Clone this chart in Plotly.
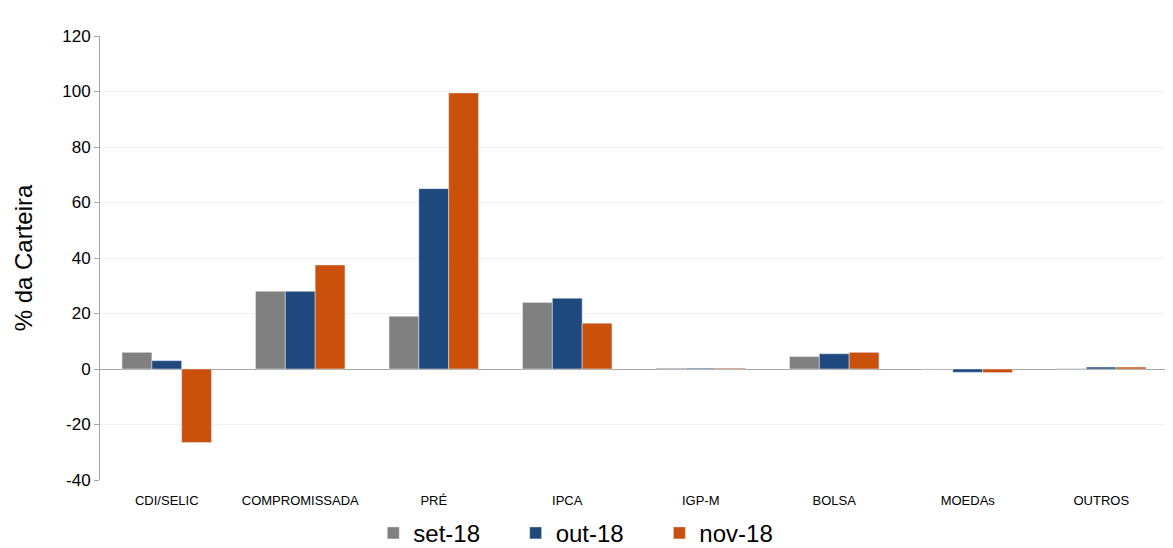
import plotly.graph_objects as go

categories = ["CDI/SELIC", "COMPROMISSADA", "PRÉ", "IPCA", "IGP-M", "BOLSA", "MOEDAs", "OUTROS"]
set18 = [6, 28, 19, 24, 0.3, 4.5, -0.3, 0.1]
out18 = [3, 28, 65, 25.5, 0.3, 5.5, -1.2, 0.7]
nov18 = [-26.5, 37.5, 99.5, 16.5, 0.3, 6, -1.3, 0.7]
y_ticks = [-40, -20, 0, 20, 40, 60, 80, 100, 120]
y_tick_labels = [str(v) for v in y_ticks]

series = [("set-18", set18, "#808080"), ("out-18", out18, "#1F497D"), ("nov-18", nov18, "#C9510C")]

fig = go.Figure()
for name, vals, color in series:
    fig.add_trace(go.Bar(x=categories, y=vals, name=name + "\u2003 ", marker_color=color))

fig.update_layout(
    width=1162, height=538,
    barmode="group", bargap=0.33, bargroupgap=0,
    plot_bgcolor="white", paper_bgcolor="white",
    font=dict(family="Liberation Sans, Arial", color="black"),
    margin=dict(l=92, r=2, t=28, b=66, autoexpand=False),
    legend=dict(orientation="h", x=0.46, xanchor="center", y=-0.12, yanchor="middle",
                font=dict(size=24), itemwidth=30),
    yaxis=dict(range=[-40, 120], tickvals=y_ticks, ticktext=y_tick_labels,
               showgrid=True, gridcolor="#f2f2f2",
               zeroline=True, zerolinecolor="#a6a6a6", zerolinewidth=1,
               showline=True, linecolor="#a6a6a6", ticks="outside", ticklen=5,
               tickcolor="#a6a6a6", tickfont=dict(size=17),
               title=dict(text="% da Carteira", font=dict(size=24), standoff=22)),
    xaxis=dict(showline=False, ticks="outside", ticklen=8, tickcolor="white",
               tickfont=dict(size=13)),
)
fig.write_html("out.html")
